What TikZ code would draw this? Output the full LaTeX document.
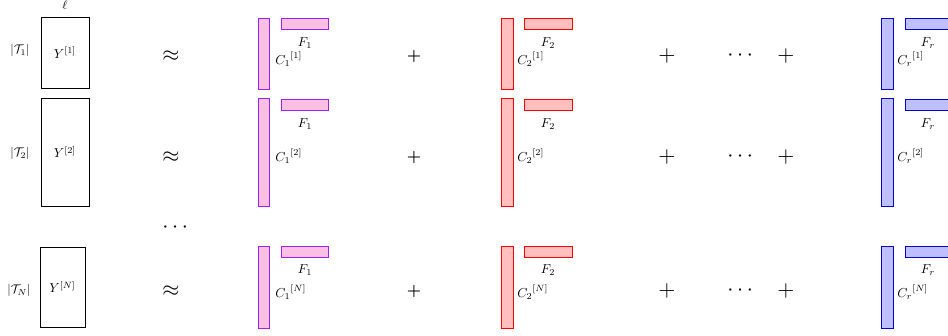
\documentclass[tikz,border=0pt]{standalone}
\usepackage{amsmath,amssymb}
\definecolor{pinkline}{RGB}{160,32,240}
\begin{document}
\begin{tikzpicture}[x=1pt,y=-1pt,
  ybox/.style={draw=black,thick,fill=white,inner sep=0pt},
  ytext/.style={inner sep=0pt,scale=1.3},
  bar/.style={draw,thick,inner sep=0pt},
  pinkbar/.style={bar,draw=pinkline,fill=magenta!25},
  redbar/.style={bar,draw=red,fill=red!25},
  bluebar/.style={bar,draw=blue!85!black,fill=blue!25},
  lab/.style={inner sep=0pt,scale=1.3},
  tlab/.style={inner sep=0pt,scale=1.25},
  big/.style={inner sep=0pt,scale=2.2}]
\useasboundingbox (0,0) rectangle (948,335);
\clip (0,0) rectangle (948,335);
% ell
\node[tlab] (ell) at (65,5) {$\ell$};
% Y boxes
\node[ybox,minimum width=48pt,minimum height=71pt] (Y1) at (65,52.5) {};
\node[ybox,minimum width=48pt,minimum height=108pt] (Y2) at (65,152) {};
\node[ybox,minimum width=45pt,minimum height=80pt] (YN) at (62.5,287) {};
\node[ytext] (y1) at (Y1) {$Y^{[1]}$};
\node[ytext] (y2) at (Y2) {$Y^{[2]}$};
\node[ytext] (yN) at (YN) {$Y^{[N]}$};
\node[tlab] (T1) at (20,50) {$|\mathcal{T}_1|$};
\node[tlab] (T2) at (20,153) {$|\mathcal{T}_2|$};
\node[tlab] (TN) at (19,290) {$|\mathcal{T}_N|$};
% approx
\node[big] (a1) at (171,56) {$\approx$};
\node[big] (a2) at (171,157) {$\approx$};
\node[big] (a3) at (171,291) {$\approx$};
\node[big] (vd) at (177,228) {$\cdots$};
% bold plus
\node[inner sep=0pt,scale=1.6] (p1) at (414,56) {$\boldsymbol{+}$};
\node[inner sep=0pt,scale=1.6] (p2) at (414,157) {$\boldsymbol{+}$};
\node[inner sep=0pt,scale=1.6] (p3) at (414,291) {$\boldsymbol{+}$};
% thin plus and dots
\foreach \y/\n in {56/1,157/2,291/3}{
  \node[big] (q\n) at (667,\y) {$+$};
  \node[big] (d\n) at (742,\y) {$\cdots$};
  \node[big] (s\n) at (786,\y) {$+$};
}
% pink
\node[pinkbar,minimum width=11pt,minimum height=71pt] (C11) at (263.5,53.5) {};
\node[pinkbar,minimum width=47pt,minimum height=11pt] (F11) at (304.5,23.5) {};
\node[pinkbar,minimum width=11pt,minimum height=108pt] (C12) at (263.5,152) {};
\node[pinkbar,minimum width=47pt,minimum height=11pt] (F12) at (304.5,104.5) {};
\node[pinkbar,minimum width=11pt,minimum height=82pt] (C1N) at (263.5,287) {};
\node[pinkbar,minimum width=47pt,minimum height=11pt] (F1N) at (304.5,251.5) {};
% red
\node[redbar,minimum width=12pt,minimum height=71pt] (C21) at (507,53.5) {};
\node[redbar,minimum width=48pt,minimum height=11pt] (F21) at (548,23.5) {};
\node[redbar,minimum width=12pt,minimum height=108pt] (C22) at (507,152) {};
\node[redbar,minimum width=48pt,minimum height=11pt] (F22) at (548,104.5) {};
\node[redbar,minimum width=12pt,minimum height=82pt] (C2N) at (507,287) {};
\node[redbar,minimum width=48pt,minimum height=11pt] (F2N) at (548,251.5) {};
% blue
\node[bluebar,minimum width=12pt,minimum height=71pt] (Cr1) at (887,53.5) {};
\node[bluebar,minimum width=48pt,minimum height=11pt] (Fr1) at (929,23.5) {};
\node[bluebar,minimum width=12pt,minimum height=108pt] (Cr2) at (887,152) {};
\node[bluebar,minimum width=48pt,minimum height=11pt] (Fr2) at (929,104.5) {};
\node[bluebar,minimum width=12pt,minimum height=82pt] (CrN) at (887,287) {};
\node[bluebar,minimum width=48pt,minimum height=11pt] (FrN) at (929,251.5) {};
% F labels
\node[lab] (lF11) at (305,43) {$F_1$};
\node[lab] (lF12) at (305,124) {$F_1$};
\node[lab] (lF1N) at (305,270) {$F_1$};
\node[lab] (lF21) at (548,43) {$F_2$};
\node[lab] (lF22) at (548,124) {$F_2$};
\node[lab] (lF2N) at (548,270) {$F_2$};
\node[lab] (lFr1) at (928,43) {$F_r$};
\node[lab] (lFr2) at (928,124) {$F_r$};
\node[lab] (lFrN) at (928,270) {$F_r$};
% C labels
\node[lab,anchor=west] (lC11) at (275,59) {${C_1}^{[1]}$};
\node[lab,anchor=west] (lC12) at (275,156) {${C_1}^{[2]}$};
\node[lab,anchor=west] (lC1N) at (275,292) {${C_1}^{[N]}$};
\node[lab,anchor=west] (lC21) at (517,59) {${C_2}^{[1]}$};
\node[lab,anchor=west] (lC22) at (517,156) {${C_2}^{[2]}$};
\node[lab,anchor=west] (lC2N) at (517,292) {${C_2}^{[N]}$};
\node[lab,anchor=west] (lCr1) at (897,59) {${C_r}^{[1]}$};
\node[lab,anchor=west] (lCr2) at (897,156) {${C_r}^{[2]}$};
\node[lab,anchor=west] (lCrN) at (897,292) {${C_r}^{[N]}$};
\end{tikzpicture}
\end{document}
